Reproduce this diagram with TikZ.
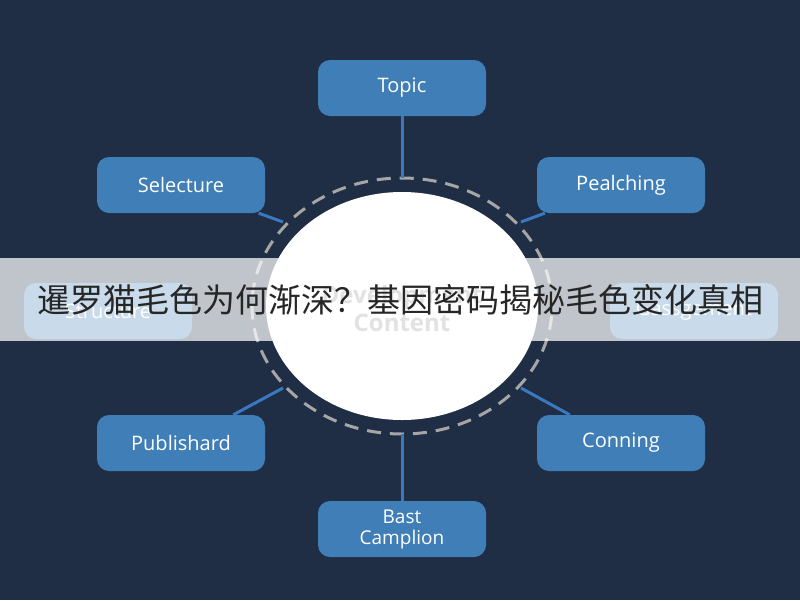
\documentclass[tikz,border=0pt]{standalone}
\usepackage{fontspec}
\setmainfont{Open Sans}
\newfontfamily\cjk{Noto Sans CJK SC}
\begin{document}
\begin{tikzpicture}[x=1pt,y=-1pt,
  box/.style={draw=none,fill=boxblue,rounded corners=12pt,minimum width=168pt,minimum height=56pt,text=white,font=\fontsize{20}{23}\selectfont,align=center},
  link/.style={draw=linkblue,line width=3pt}]
\definecolor{bg}{HTML}{1F2D45}
\definecolor{boxblue}{HTML}{3F7EB6}
\definecolor{linkblue}{HTML}{3A78C0}
\fill[bg] (0,0) rectangle (800,600);
\useasboundingbox (0,0) rectangle (800,600);
\coordinate (c) at (402,306);
\draw[gray!70,line width=3pt,dash pattern=on 14pt off 9pt] (c) ellipse (150pt and 128pt);
\fill[white] (c) ellipse (136pt and 114pt);
\node[text=gray!80,font=\fontsize{24}{28}\selectfont\bfseries,align=center] (ct) at (402,308) {Development\\Content};
\node[box] (topic) at (402,88) {Topic};
\node[box] (sel) at (181,185) {Selecture};
\node[box] (pea) at (621,185) {Pealching};
\node[box] (str) at (108,311) {Structure};
\node[box] (gas) at (694,311) {Gassgement};
\node[box] (pub) at (181,443) {Publishard};
\node[box] (con) at (621,443) {Conning};
\node[box,font=\fontsize{19}{21}\selectfont] (best) at (402,529) {Bast\\Camplion};
\coordinate (t1) at (402,178);
\coordinate (s1) at (283,222);
\coordinate (p1) at (521,222);
\coordinate (u1) at (283,388);
\coordinate (o1) at (521,388);
\coordinate (b1) at (402,434);
\draw[link] (topic) -- (t1);
\draw[link] (sel) -- (s1);
\draw[link] (pea) -- (p1);
\draw[link] (pub) -- (u1);
\draw[link] (con) -- (o1);
\draw[link] (best) -- (b1);
\fill[white,opacity=0.72] (0,258) rectangle (800,341);
\node[font=\cjk\fontsize{33}{38}\selectfont,text=black!85] (title) at (400,300) {暹罗猫毛色为何渐深？基因密码揭秘毛色变化真相};
\end{tikzpicture}
\end{document}
